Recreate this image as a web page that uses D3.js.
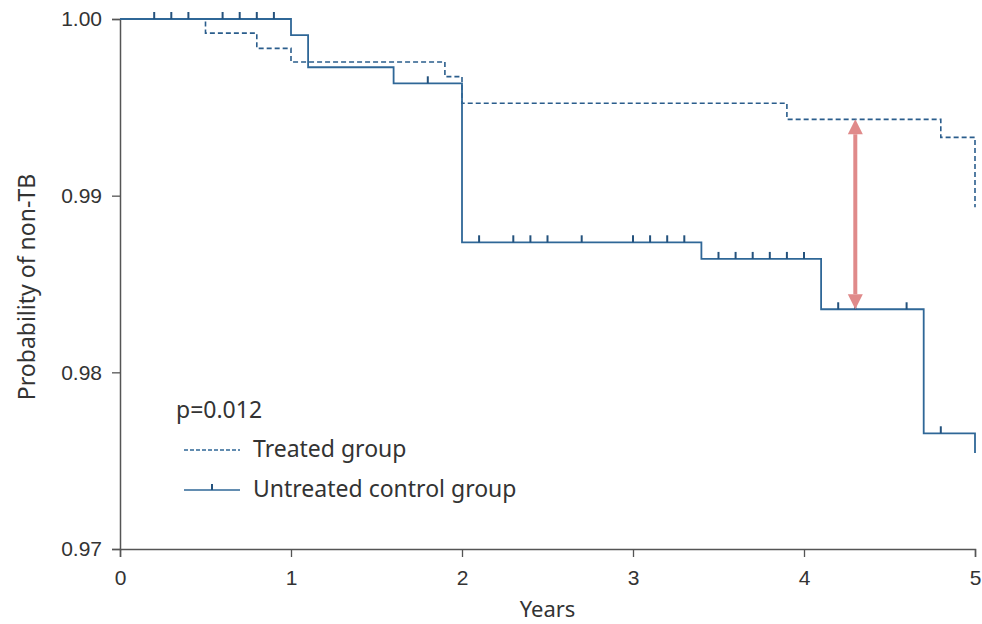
<!DOCTYPE html>
<html>
<head>
<meta charset="utf-8">
<script src="https://cdn.jsdelivr.net/npm/d3@7"></script>
<style>
	body { margin: 0; background: #fff; }
	svg { display: block; font-family: "Noto Sans", "Open Sans", sans-serif; }
</style>
</head>
<body>
<svg id="chart" width="982" height="624"></svg>
<script>

// Kaplan-Meier steps
var treatedTimes = [0, 0.5, 0.8, 1.0, 1.9, 2.0, 3.9, 4.8, 5.0];
var treatedSurv = [1.0, 0.9992, 0.99834, 0.99757, 0.99674, 0.99523, 0.99432, 0.9933, 0.98934];

var untreatedTimes = [0, 1.0, 1.1, 1.6, 2.0, 3.4, 4.1, 4.7, 5.0];
var untreatedSurv = [1.0, 0.99909, 0.99727, 0.99636, 0.98736, 0.98642, 0.98357, 0.97655, 0.97544];

// censor marks on the untreated curve
var untreatedCensored = [0.2, 0.3, 0.4, 0.6, 0.7, 0.8, 0.9, 1.8,
	2.1, 2.3, 2.4, 2.5, 2.7, 3.0, 3.1, 3.2, 3.3,
	3.5, 3.6, 3.7, 3.8, 3.9, 4.0, 4.2, 4.3, 4.6, 4.8];

var xTicks = [0, 1, 2, 3, 4, 5];
var yTicks = [0.97, 0.98, 0.99, 1.00];

// gap marker
var arrowTime = 4.3;
var arrowTop = 0.99432;
var arrowBottom = 0.98357;

var pValue = "p=0.012";
var seriesNames = ["Treated group", "Untreated control group"];

var blue = "#2f6797";
var axisColor = "#555";

var svg = d3.select("#chart");

var x = d3.scaleLinear().domain([0, 5]).range([120, 975]);
var y = d3.scaleLinear().domain([0.97, 1.0]).range([549, 19]);

// Axes

var xAxis = svg.append("g")
.attr("transform", "translate(0," + y(0.97) + ")")
.call(d3.axisBottom(x).tickValues(xTicks).tickFormat(d3.format("d")).tickSize(8).tickPadding(13));

var yAxis = svg.append("g")
.attr("transform", "translate(" + x(0) + ",0)")
.call(d3.axisLeft(y).tickValues(yTicks).tickFormat(d3.format(".2f")).tickSize(8).tickPadding(10));

svg.selectAll(".domain")
.attr("stroke", axisColor)
.attr("stroke-width", 1.5)

svg.selectAll(".tick line")
.attr("stroke", axisColor)
.attr("stroke-width", 1.3)

svg.selectAll(".tick text")
.attr("fill", "#333")
.style("font-size", "21px")

// Axis titles

svg.append("text")
.attr("x", (x(0) + x(5)) / 2)
.attr("y", 617)
.attr("text-anchor", "middle")
.attr("fill", "#333")
.style("font-size", "22px")
.text("Years")

svg.append("text")
.attr("transform", "translate(35,287) rotate(-90)")
.attr("text-anchor", "middle")
.attr("fill", "#333")
.style("font-size", "23px")
.text("Probability of non-TB")

// Curves

function steps(times, surv) {
	return times.map(function (t, i) { return [t, surv[i]]; });
}

var line = d3.line()
.x(function (d) { return x(d[0]); })
.y(function (d) { return y(d[1]); })
.curve(d3.curveStepAfter);

svg.append("path")
.datum(steps(treatedTimes, treatedSurv))
.attr("d", line)
.attr("fill", "none")
.attr("stroke", "#2a5d8c")
.attr("stroke-width", 1.6)
.attr("stroke-dasharray", "5,3")

svg.append("path")
.datum(steps(untreatedTimes, untreatedSurv))
.attr("d", line)
.attr("fill", "none")
.attr("stroke", blue)
.attr("stroke-width", 1.8)

function survAt(t) {
	var s = untreatedSurv[0];
	for(var i = 0; i < untreatedTimes.length; i++) {
		if(untreatedTimes[i] <= t) s = untreatedSurv[i];
	}
	return s;
}

svg.append("g")
.selectAll("line")
.data(untreatedCensored)
.enter().append("line")
.attr("x1", function (d) { return x(d); })
.attr("x2", function (d) { return x(d); })
.attr("y1", function (d) { return y(survAt(d)); })
.attr("y2", function (d) { return y(survAt(d)) - 7; })
.attr("stroke", "#24527d")
.attr("stroke-width", 2)

// Arrow

var arrowColor = "#e08a8a";
var ax = x(arrowTime);
var head = 15;

svg.append("line")
.attr("x1", ax).attr("x2", ax)
.attr("y1", y(arrowTop) + head)
.attr("y2", y(arrowBottom) - head)
.attr("stroke", arrowColor)
.attr("stroke-width", 4)

svg.append("path")
.attr("d", "M" + ax + "," + y(arrowTop) + "l" + (-head / 2) + "," + head + "h" + head + "z")
.attr("fill", arrowColor)

svg.append("path")
.attr("d", "M" + ax + "," + y(arrowBottom) + "l" + (-head / 2) + "," + (-head) + "h" + head + "z")
.attr("fill", arrowColor)

// Legend

var legend = svg.append("g").style("font-size", "23px").attr("fill", "#333");

legend.append("text")
.attr("x", 176).attr("y", 418)
.text(pValue)

legend.append("line")
.attr("x1", 184).attr("x2", 240)
.attr("y1", 450).attr("y2", 450)
.attr("stroke", blue)
.attr("stroke-width", 1.4)
.attr("stroke-dasharray", "4,2")

legend.append("text")
.attr("x", 253).attr("y", 457)
.text(seriesNames[0])

legend.append("line")
.attr("x1", 184).attr("x2", 240)
.attr("y1", 490).attr("y2", 490)
.attr("stroke", blue)
.attr("stroke-width", 1.4)

legend.append("line")
.attr("x1", 212).attr("x2", 212)
.attr("y1", 490).attr("y2", 484)
.attr("stroke", "#24527d")
.attr("stroke-width", 2)

legend.append("text")
.attr("x", 253).attr("y", 497)
.text(seriesNames[1])

</script>
</body>
</html>
